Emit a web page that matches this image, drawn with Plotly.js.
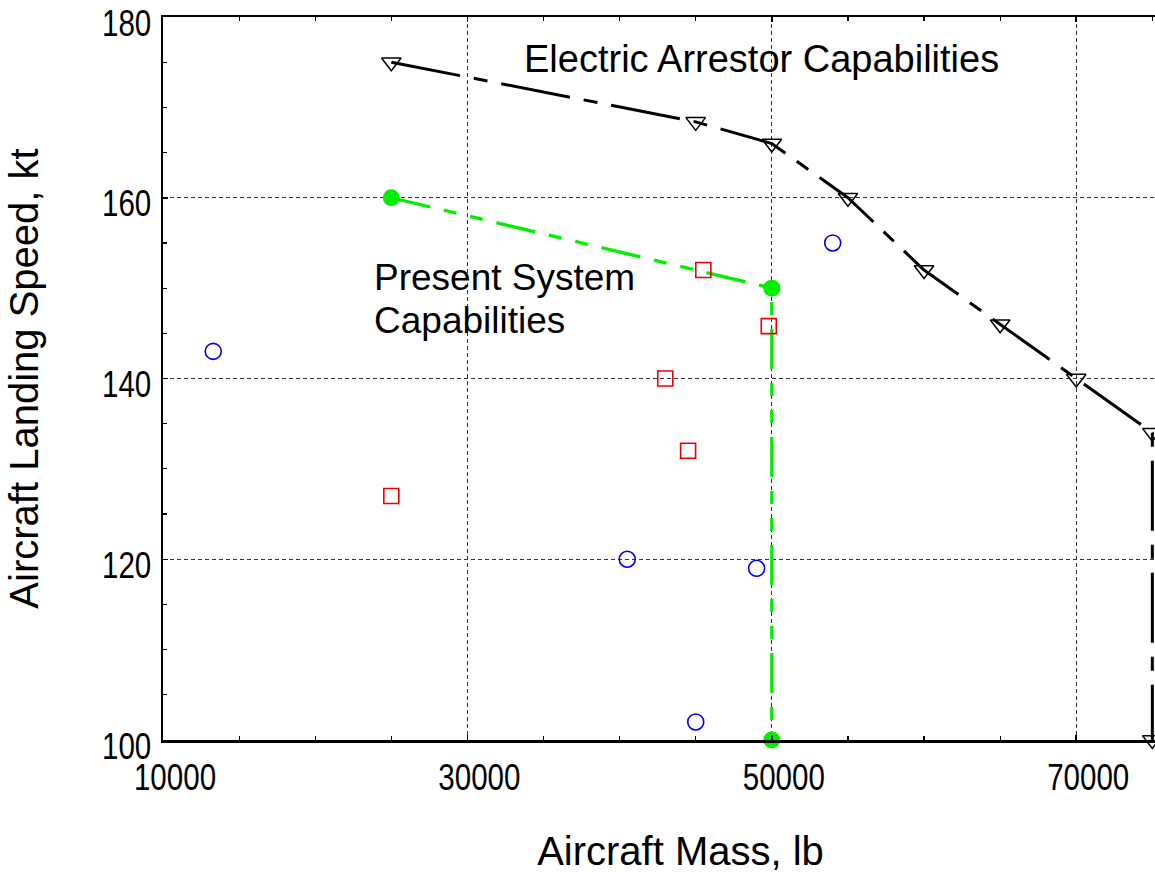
<!DOCTYPE html>
<html>
<head>
<meta charset="utf-8">
<script src="https://cdn.plot.ly/plotly-3.0.1.min.js"></script>
<style>
html, body { margin: 0; padding: 0; overflow: hidden; background: #fff; }
#chart { width: 1200px; height: 873px; }
</style>
</head>
<body>
<div id="chart"></div>
<script>
// Electric arrestor capability curve
var electricMass  = [25000, 45000, 50000, 55000, 60000, 65000, 70000, 75000, 75000];
var electricSpeed = [175, 168.4, 166, 160, 152, 146, 140, 134, 100];

// Present system capability curve
var presentMass  = [25000, 50000, 50000];
var presentSpeed = [160, 150, 100];

// Red squares
var squareMass  = [25000, 45500, 49800, 43000, 44500];
var squareSpeed = [127, 152, 145.8, 140, 132];

// Blue circles
var circleMass  = [13300, 40500, 49000, 45000, 54000];
var circleSpeed = [143, 120, 119, 102, 155];

// Axis ticks
var xTickVals = [10000, 30000, 50000, 70000];
var xTickText = ['10000', '30000', '50000', '70000'];
var yTickVals = [100, 120, 140, 160, 180];
var yTickText = ['100', '120', '140', '160', '180'];

var FONT = 'Liberation Sans, Arial, Helvetica, sans-serif';

var traces = [
  {
    x: electricMass, y: electricSpeed, type: 'scatter', mode: 'lines+markers',
    line: { color: '#000', width: 3, dash: '70px,14px,14px,14px' },
    marker: { symbol: 'triangle-down-open', size: 17, color: '#000', line: { width: 1.5, color: '#000' } },
    cliponaxis: false, hoverinfo: 'skip'
  },
  {
    x: presentMass, y: presentSpeed, type: 'scatter', mode: 'lines+markers',
    line: { color: '#00ee00', width: 3.3, dash: '40px,14px,13px,14px,13px,14px' },
    marker: { symbol: 'circle', size: 17, color: '#00ee00' },
    cliponaxis: false, hoverinfo: 'skip'
  },
  {
    x: squareMass, y: squareSpeed, type: 'scatter', mode: 'markers',
    marker: { symbol: 'square-open', size: 15, color: '#ee0000', line: { width: 1.6, color: '#ee0000' } },
    hoverinfo: 'skip'
  },
  {
    x: circleMass, y: circleSpeed, type: 'scatter', mode: 'markers',
    marker: { symbol: 'circle-open', size: 16, color: '#0000ee', line: { width: 1.6, color: '#0000ee' } },
    hoverinfo: 'skip'
  }
];

var axisCommon = {
  showline: true, linecolor: '#000', linewidth: 2.5, mirror: 'allticks',
  ticks: 'inside', ticklen: 5, tickwidth: 1.5, tickcolor: '#000',
  showgrid: true, gridcolor: '#333', gridwidth: 1, griddash: '4px,3px',
  zeroline: false, layer: 'above traces', ticklabeloverflow: 'allow',
  tickfont: { family: FONT, size: 36, color: '#000' }
};

var layout = {
  width: 1200, height: 873,
  margin: { l: 163, r: 2, t: 17, b: 133 },
  paper_bgcolor: '#fff', plot_bgcolor: '#fff',
  showlegend: false,
  font: { family: FONT, color: '#000' },
  xaxis: Object.assign({}, axisCommon, {
    range: [10000, 78000],
    tickmode: 'array', tickvals: xTickVals, ticktext: xTickText,
    ticklabelshift: 12, ticklabelstandoff: 4,
    minor: { dtick: 5000, tick0: 10000, ticks: 'inside', ticklen: 4, tickcolor: '#000', tickwidth: 1.2, showgrid: false },
    title: { text: 'Aircraft Mass, lb', font: { family: FONT, size: 40, color: '#000' }, standoff: 52 }
  }),
  yaxis: Object.assign({}, axisCommon, {
    range: [100, 180],
    tickmode: 'array', tickvals: yTickVals, ticktext: yTickText,
    ticklabelshift: 6, ticklabelstandoff: 2,
    minor: { dtick: 5, tick0: 100, ticks: 'inside', ticklen: 4, tickcolor: '#000', tickwidth: 1.2, showgrid: false },
    title: { text: 'Aircraft Landing Speed, kt', font: { family: FONT, size: 40, color: '#000' }, standoff: 40 }
  }),
  annotations: [
    { text: 'Electric Arrestor Capabilities', x: 33600, y: 175.3, xref: 'x', yref: 'y',
      xanchor: 'left', yanchor: 'middle', showarrow: false, font: { family: FONT, size: 38, color: '#000' } },
    { text: 'Present System', x: 23700, y: 151.2, xref: 'x', yref: 'y',
      xanchor: 'left', yanchor: 'middle', showarrow: false, font: { family: FONT, size: 37, color: '#000' } },
    { text: 'Capabilities', x: 23700, y: 146.4, xref: 'x', yref: 'y',
      xanchor: 'left', yanchor: 'middle', showarrow: false, font: { family: FONT, size: 37, color: '#000' } }
  ]
};

Plotly.newPlot('chart', traces, layout, { staticPlot: true, displayModeBar: false }).then(function (gd) {
  // condense the tick-label glyphs horizontally (narrow face look)
  gd.querySelectorAll('.xtick text, .ytick text').forEach(function (t) {
    var w = t.getComputedTextLength();
    t.setAttribute('lengthAdjust', 'spacingAndGlyphs');
    t.setAttribute('textLength', (w * 0.82).toFixed(1));
  });
});
</script>
</body>
</html>
